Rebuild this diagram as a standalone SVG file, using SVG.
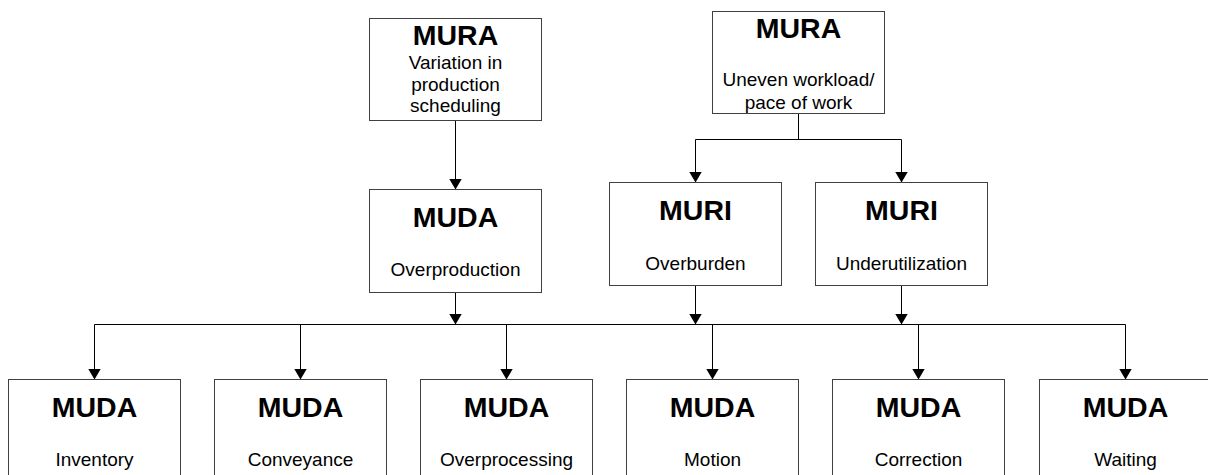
<svg xmlns="http://www.w3.org/2000/svg" width="1208" height="475" viewBox="0 0 1208 475">
<defs>
<marker id="arr" markerWidth="11" markerHeight="13" refX="11" refY="6.5" orient="auto" markerUnits="userSpaceOnUse">
<path d="M0,0 L11,6.5 L0,13 z" fill="#000"/>
</marker>
<style>
.box{fill:#fff;stroke:#404040;stroke-width:1}
.t{font-family:"Liberation Sans",Arial,sans-serif;font-size:28.5px;font-weight:bold;text-anchor:middle;fill:#000}
.s{font-family:"Liberation Sans",Arial,sans-serif;font-size:19px;text-anchor:middle;fill:#000}
.c{fill:none;stroke:#000;stroke-width:1}
.ca{fill:none;stroke:#000;stroke-width:1;marker-end:url(#arr)}
</style>
</defs>
<rect width="1208" height="475" fill="#fff"/>
<g id="connectors">
<path class="ca" d="M455.5,120.5 V189.5"/>
<path class="c" d="M798.5,113.5 V139.5 M695.5,139.5 H901.5"/>
<path class="ca" d="M695.5,139.5 V182.5"/>
<path class="ca" d="M901.5,139.5 V182.5"/>
<path class="ca" d="M455.5,292.5 V324.5"/>
<path class="ca" d="M695.5,285.5 V324.5"/>
<path class="ca" d="M901.5,285.5 V324.5"/>
<path class="c" d="M94.5,324.5 H1125.5"/>
<path class="ca" d="M94.5,324.5 V379.5"/>
<path class="ca" d="M300.5,324.5 V379.5"/>
<path class="ca" d="M506.5,324.5 V379.5"/>
<path class="ca" d="M712.5,324.5 V379.5"/>
<path class="ca" d="M918.5,324.5 V379.5"/>
<path class="ca" d="M1125.5,324.5 V379.5"/>
</g>
<g id="mura1">
<rect class="box" x="369.5" y="18.5" width="172" height="102"/>
<text class="t" x="455.5" y="45">MURA</text>
<text class="s" x="455.5" y="69">Variation in</text>
<text class="s" x="455.5" y="90.5">production</text>
<text class="s" x="455.5" y="112">scheduling</text>
</g>
<g id="mura2">
<rect class="box" x="712.5" y="11.5" width="172" height="102"/>
<text class="t" x="798.5" y="37.5">MURA</text>
<text class="s" x="798.5" y="86">Uneven workload/</text>
<text class="s" x="798.5" y="108.5">pace of work</text>
</g>
<g id="muda-overproduction">
<rect class="box" x="369.5" y="189.5" width="172" height="103"/>
<text class="t" x="455.5" y="226.5">MUDA</text>
<text class="s" x="455.5" y="275.5">Overproduction</text>
</g>
<g id="muri-overburden">
<rect class="box" x="609.5" y="182.5" width="172" height="103"/>
<text class="t" x="695.5" y="219.5">MURI</text>
<text class="s" x="695.5" y="269.5">Overburden</text>
</g>
<g id="muri-underutilization">
<rect class="box" x="815.5" y="182.5" width="172" height="103"/>
<text class="t" x="901.5" y="219.5">MURI</text>
<text class="s" x="901.5" y="269.5">Underutilization</text>
</g>
<g id="muda-inventory">
<rect class="box" x="8.5" y="379.5" width="172" height="110"/>
<text class="t" x="94.5" y="416.5">MUDA</text>
<text class="s" x="94.5" y="466">Inventory</text>
</g>
<g id="muda-conveyance">
<rect class="box" x="214.5" y="379.5" width="172" height="110"/>
<text class="t" x="300.5" y="416.5">MUDA</text>
<text class="s" x="300.5" y="466">Conveyance</text>
</g>
<g id="muda-overprocessing">
<rect class="box" x="420.5" y="379.5" width="172" height="110"/>
<text class="t" x="506.5" y="416.5">MUDA</text>
<text class="s" x="506.5" y="466">Overprocessing</text>
</g>
<g id="muda-motion">
<rect class="box" x="626.5" y="379.5" width="172" height="110"/>
<text class="t" x="712.5" y="416.5">MUDA</text>
<text class="s" x="712.5" y="466">Motion</text>
</g>
<g id="muda-correction">
<rect class="box" x="832.5" y="379.5" width="172" height="110"/>
<text class="t" x="918.5" y="416.5">MUDA</text>
<text class="s" x="918.5" y="466">Correction</text>
</g>
<g id="muda-waiting">
<rect class="box" x="1039.5" y="379.5" width="172" height="110"/>
<text class="t" x="1125.5" y="416.5">MUDA</text>
<text class="s" x="1125.5" y="466">Waiting</text>
</g>
</svg>
